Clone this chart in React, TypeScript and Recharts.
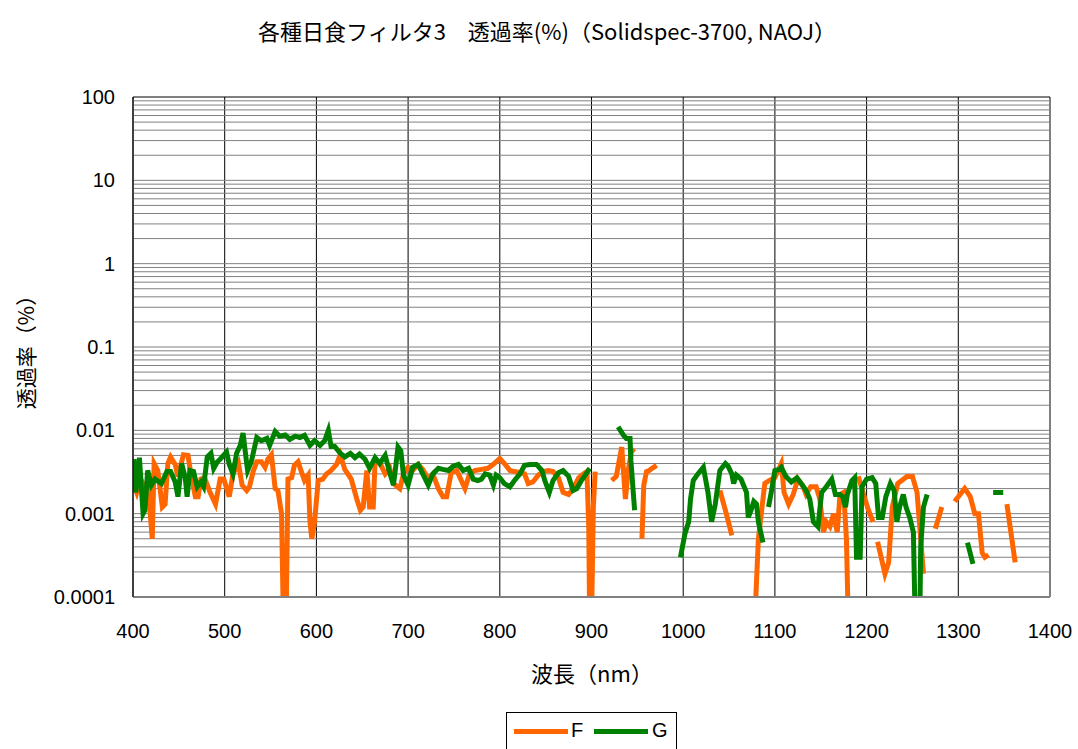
import { CartesianGrid, Line, LineChart, ReferenceLine, XAxis, YAxis } from 'recharts';

// wavelength (nm) and transmittance (%); null = gap in the curve
const fNm = [
  401, 404, 408, 412, 416, 421, 423, 427, 432, 435, 438, 441, 446, 449, 455, 460, 463, 468, 471, 474,
  478, 484, 490, 495, 499, 505, 509, 515, 519, 524, 527, 531, 535, 540, 544, 547, 551, 555, 558, 562,
  564, 567, 569, 573, 576, 580, 584, 587, 591, 593, 595, 598, 602, 607, 611, 616, 622, 626, 631, 638,
  644, 648, 651, 655, 658, 662, 664, 669, 675, 680, 684, 691, 695, 700, 705, 711, 716, 722, 727, 733,
  738, 742, 747, 753, 756, 762, 767, 773, 780, 787, 793, 800, 805, 811, 816, 822, 827, 831, 836, 842,
  847, 853, 858, 864, 869, 875, 880, 886, 891, 895, 897, 898, 900, 902, 904, 910,
  922, 927, 933, 937, 940, 944, 947, 951,
  955, 957, 960, 963, 966, 971, 1000,
  1040, 1047, 1053, 1065,
  1078, 1082, 1087, 1089, 1094, 1100, 1107, 1110, 1115, 1120, 1125, 1130, 1134, 1139, 1145, 1149,
  1153, 1156, 1160, 1164, 1168, 1171, 1175, 1178, 1180, 1185,
  1191, 1196, 1202, 1207, 1209,
  1212, 1220, 1224, 1228, 1234, 1244, 1250, 1255, 1258, 1262, 1270,
  1275, 1282, 1290,
  1296, 1307, 1313, 1318, 1322, 1326, 1329, 1333, 1345,
  1353, 1362,
];
const fPct = [
  0.0022, 0.0018, 0.0027, 0.0021, 0.0024, 0.0005, 0.004, 0.0033, 0.0012, 0.0013, 0.004, 0.0048, 0.0039, 0.0028, 0.0051, 0.005, 0.003, 0.0016, 0.0016, 0.0026,
  0.0027, 0.0018, 0.0013, 0.0026, 0.0026, 0.0016, 0.003, 0.004, 0.0022, 0.0019, 0.0021, 0.0032, 0.0042, 0.0042, 0.0036, 0.0045, 0.0051, 0.002, 0.0019, 0.001,
  0.00005, 0.00005, 0.0026, 0.0027, 0.0038, 0.0042, 0.0031, 0.0025, 0.0029, 0.0008, 0.0005, 0.0008, 0.0025, 0.0026, 0.003, 0.0033, 0.0039, 0.0051, 0.0034, 0.0026,
  0.0015, 0.0011, 0.0012, 0.0033, 0.0012, 0.0012, 0.0043, 0.0041, 0.003, 0.0035, 0.0023, 0.002, 0.003, 0.0036, 0.0033, 0.0039, 0.0034, 0.0026, 0.003, 0.002,
  0.0016, 0.0016, 0.0031, 0.0033, 0.0028, 0.002, 0.003, 0.0033, 0.0034, 0.0035, 0.0039, 0.0046, 0.004, 0.0033, 0.0032, 0.0031, 0.003, 0.0023, 0.0024, 0.0029,
  0.0032, 0.0033, 0.0032, 0.0027, 0.0018, 0.0017, 0.002, 0.0027, 0.003, 0.0032, 0.0007, 0.00005, 0.00005, 0.0012, 0.0032, null,
  0.0025, 0.0028, 0.0063, 0.0015, 0.0033, 0.0058, 0.0055, null,
  0.0005, 0.0022, 0.0032, 0.0033, 0.0035, 0.0038, null,
  0.0019, 0.001, 0.00055, null,
  0.00005, 0.0005, 0.0015, 0.0023, 0.0025, 0.0027, 0.004, 0.0018, 0.0013, 0.0017, 0.0026, 0.0022, 0.0017, 0.0021, 0.0021, 0.0015,
  0.0006, 0.0008, 0.0007, 0.001, 0.0006, 0.0017, 0.0018, 0.0005, 0.00005, null,
  0.0028, 0.0018, 0.0011, 0.0008, null,
  0.00046, 0.00019, 0.00026, 0.0012, 0.0023, 0.0028, 0.0028, 0.0018, 0.0007, 0.00019, null,
  0.00066, 0.0012, null,
  0.0014, 0.002, 0.0016, 0.001, 0.001, 0.00034, 0.0003, 0.00032, null,
  0.0013, 0.00026,
];

const gNm = [
  401, 403, 407, 411, 413, 416, 420, 424, 431, 437, 441, 446, 449, 453, 457, 459, 462, 466, 470, 474,
  477, 481, 485, 488, 492, 495, 502, 505, 509, 513, 517, 520, 524, 525, 529, 535, 540, 546, 549, 555,
  560, 566, 571, 577, 582, 587, 593, 598, 604, 609, 613, 616, 620, 626, 631, 637, 642, 647, 653, 658,
  664, 669, 675, 680, 684, 686, 689, 692, 695, 700, 705, 711, 716, 722, 727, 733, 738, 744, 749, 755,
  760, 766, 771, 776, 780, 784, 789, 793, 796, 800, 805, 811, 816, 822, 827, 833, 840, 846, 849, 854,
  858, 864, 869, 875, 880, 884, 889, 895, 898, 910,
  929, 935, 938, 942, 943, 947, 970,
  997, 1002, 1006, 1008, 1011, 1016, 1022, 1027, 1031, 1035, 1040, 1046, 1049, 1053, 1055, 1058, 1063, 1069, 1071,
  1074, 1077, 1080, 1082, 1087, 1090,
  1093, 1096, 1100, 1105, 1107, 1112, 1118, 1124, 1130, 1134, 1138, 1142, 1147, 1151, 1156, 1162, 1166, 1171, 1174, 1177,
  1179, 1184, 1187, 1189, 1193, 1195, 1200, 1206, 1210, 1213, 1217, 1221, 1226, 1230, 1233, 1236, 1240, 1243, 1247, 1251,
  1253, 1258, 1259, 1262, 1266, 1290,
  1310, 1316, 1325,
  1338, 1349,
];
const gPct = [
  0.0045, 0.0018, 0.0047, 0.001, 0.0011, 0.0033, 0.0022, 0.0026, 0.0023, 0.0032, 0.0032, 0.0024, 0.0016, 0.004, 0.0027, 0.0016, 0.0033, 0.0032, 0.0021, 0.0024,
  0.0021, 0.0048, 0.0053, 0.0035, 0.0042, 0.0045, 0.0055, 0.0039, 0.003, 0.0053, 0.0066, 0.0093, 0.004, 0.0033, 0.0042, 0.0082, 0.0075, 0.008, 0.0066, 0.0097,
  0.0085, 0.0088, 0.0078, 0.0085, 0.0082, 0.0087, 0.0066, 0.0075, 0.0066, 0.0075, 0.01, 0.0064, 0.0064, 0.0053, 0.0048, 0.0053, 0.0047, 0.0052, 0.0045, 0.0035,
  0.0047, 0.004, 0.005, 0.0031, 0.0022, 0.0033, 0.0063, 0.0057, 0.0029, 0.0022, 0.0036, 0.0039, 0.003, 0.0022, 0.003, 0.0035, 0.0034, 0.0033, 0.0037, 0.0039,
  0.0033, 0.0035, 0.0026, 0.0025, 0.0026, 0.003, 0.0029, 0.0022, 0.0029, 0.0027, 0.0023, 0.0021, 0.0025, 0.003, 0.0038, 0.0039, 0.0039, 0.0033, 0.0025, 0.0018,
  0.0025, 0.0031, 0.0033, 0.0028, 0.0019, 0.002, 0.0025, 0.0031, 0.0035, null,
  0.011, 0.0087, 0.008, 0.008, 0.0043, 0.0011, null,
  0.0003, 0.00058, 0.0008, 0.0015, 0.0025, 0.003, 0.0036, 0.0018, 0.0008, 0.0013, 0.0033, 0.004, 0.0037, 0.003, 0.0023, 0.0029, 0.0026, 0.0018, 0.0009,
  0.0011, 0.0014, 0.0013, 0.0008, 0.00045, null,
  0.0012, 0.0018, 0.0033, 0.0034, 0.0036, 0.0028, 0.0024, 0.0027, 0.0022, 0.0019, 0.0015, 0.0008, 0.0007, 0.0018, 0.0021, 0.0026, 0.0017, 0.0017, 0.0016, 0.0012,
  0.0017, 0.0025, 0.0027, 0.0003, 0.0003, 0.0021, 0.0026, 0.0027, 0.0023, 0.0009, 0.0009, 0.0016, 0.0023, 0.0019, 0.0008, 0.0012, 0.0017, 0.0012, 0.0009, 0.0006,
  0.00005, 0.00005, 0.0004, 0.0012, 0.0017, null,
  0.00045, 0.00025, null,
  0.0018, 0.0018,
];

const xTicks = [400, 500, 600, 700, 800, 900, 1000, 1100, 1200, 1300, 1400];
const yTicks = [0.0001, 0.001, 0.01, 0.1, 1, 10, 100];
const gridDecades = [0.0001, 0.001, 0.01, 0.1, 1, 10];
const gridSteps = [1, 2, 3, 4, 5, 6, 7, 8, 9];

const fData = fNm.map((nm, i) => ({ nm, v: fPct[i] }));
const gData = gNm.map((nm, i) => ({ nm, v: gPct[i] }));
const minorGrid = gridDecades.flatMap((d) => gridSteps.map((m) => d * m));

const jp = '"Noto Sans CJK JP", sans-serif';
const num = '"Liberation Sans", Arial, sans-serif';

export default function App() {
  return (
    <div
      style={{
        position: 'absolute',
        left: 0,
        top: 0,
        width: 1078,
        height: 749,
        background: '#fff',
        overflow: 'hidden',
      }}
    >
      <div
        style={{
          position: 'absolute',
          top: 14,
          left: 0,
          width: 1094,
          textAlign: 'center',
          fontFamily: jp,
          fontSize: 22,
          color: '#000',
          whiteSpace: 'pre',
        }}
      >
        各種日食フィルタ3　透過率(%)（Solidspec-3700, NAOJ）
      </div>

      <div
        style={{
          position: 'absolute',
          left: 25,
          top: 347,
          transform: 'translate(-50%, -50%) rotate(-90deg)',
          fontFamily: jp,
          fontSize: 21,
          whiteSpace: 'nowrap',
        }}
      >
        透過率（%）
      </div>

      <div
        style={{
          position: 'absolute',
          left: 592,
          top: 672,
          transform: 'translate(-50%, -50%)',
          fontFamily: jp,
          fontSize: 22,
          whiteSpace: 'nowrap',
        }}
      >
        波長（nm）
      </div>

      <div
        style={{
          position: 'absolute',
          left: 506,
          top: 712,
          width: 171,
          height: 44,
          border: '1px solid #000',
          boxSizing: 'border-box',
          fontFamily: num,
          fontSize: 20,
        }}
      >
        <span style={{ position: 'absolute', left: 7, top: 16, width: 54, height: 5, background: '#ff6600' }} />
        <span style={{ position: 'absolute', left: 64, top: 6 }}>F</span>
        <span style={{ position: 'absolute', left: 87, top: 16, width: 54, height: 5, background: '#008000' }} />
        <span style={{ position: 'absolute', left: 145, top: 6 }}>G</span>
      </div>

      <LineChart
        width={1078}
        height={749}
        margin={{ top: 97, right: 28, bottom: 102, left: 53 }}
        style={{ position: 'absolute', left: 0, top: 0 }}
      >
        <CartesianGrid horizontal={false} stroke="#000" strokeWidth={1} />
        {minorGrid.map((y) => (
          <ReferenceLine key={y} y={y} stroke="#808080" strokeWidth={1} />
        ))}
        <ReferenceLine y={100} stroke="#000" strokeWidth={1} />
        <XAxis
          dataKey="nm"
          type="number"
          domain={[400, 1400]}
          ticks={xTicks}
          allowDataOverflow
          height={50}
          tickLine={false}
          tickMargin={21}
          axisLine={{ stroke: '#808080', strokeWidth: 2 }}
          tick={{ fill: '#000', fontSize: 20, fontFamily: num }}
        />
        <YAxis
          type="number"
          scale="log"
          domain={[0.0001, 100]}
          ticks={yTicks}
          allowDataOverflow
          width={80}
          tickLine={false}
          tickMargin={12}
          axisLine={{ stroke: '#000', strokeWidth: 1 }}
          tick={{ fill: '#000', fontSize: 20, fontFamily: num }}
        />
        <Line
          data={fData}
          dataKey="v"
          name="F"
          stroke="#ff6600"
          strokeWidth={5}
          dot={false}
          activeDot={false}
          connectNulls={false}
          isAnimationActive={false}
        />
        <Line
          data={gData}
          dataKey="v"
          name="G"
          stroke="#008000"
          strokeWidth={5}
          dot={false}
          activeDot={false}
          connectNulls={false}
          isAnimationActive={false}
        />
      </LineChart>
    </div>
  );
}
